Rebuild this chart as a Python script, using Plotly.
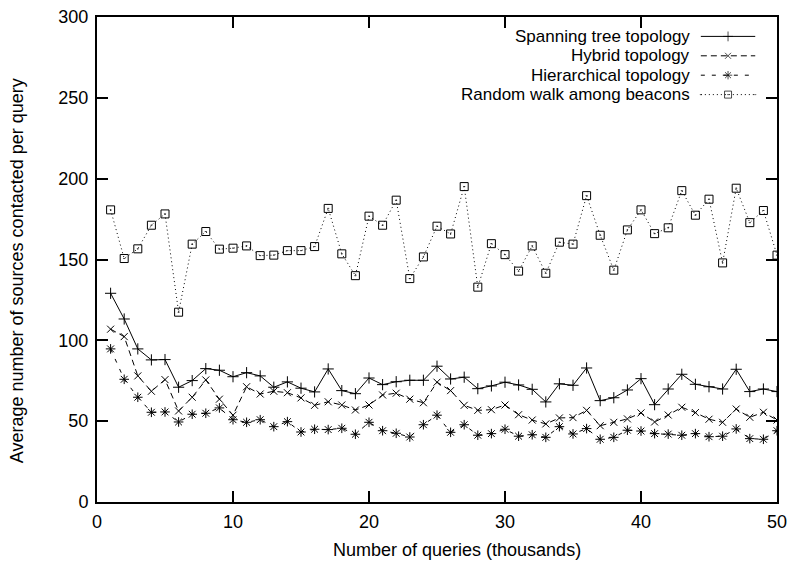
import plotly.graph_objects as go

queries = list(range(1, 51))

spanning = [129.1, 113.2, 94.7, 87.9, 88.1, 71.0, 75.1, 82.5, 81.5, 77.5,
            80.0, 78.0, 71.0, 74.3, 70.4, 68.1, 82.3, 68.9, 67.0, 76.7,
            72.6, 74.4, 75.3, 75.3, 84.0, 76.1, 77.2, 70.1, 71.8, 74.1,
            72.4, 69.7, 61.9, 73.1, 72.2, 82.9, 62.7, 64.5, 69.3, 76.3,
            60.2, 69.9, 79.0, 72.8, 71.3, 69.9, 82.1, 68.3, 69.9, 68.3]

hybrid = [106.9, 102.3, 78.0, 68.5, 75.7, 56.3, 64.8, 75.5, 63.6, 53.7,
          71.3, 66.8, 68.5, 67.6, 64.4, 59.8, 62.0, 60.0, 56.9, 60.0,
          66.2, 67.3, 63.6, 61.4, 74.1, 68.9, 59.8, 56.7, 57.1, 60.0,
          54.0, 50.7, 48.3, 52.0, 52.2, 56.7, 47.2, 49.3, 51.4, 55.1,
          49.5, 53.8, 58.6, 55.3, 51.2, 49.3, 57.5, 52.4, 55.5, 50.7]

hierarchical = [94.7, 75.9, 64.8, 55.5, 55.7, 49.5, 54.3, 54.9, 58.2, 50.9,
                49.3, 50.9, 46.6, 49.7, 43.3, 45.0, 44.8, 45.6, 41.9, 49.3,
                44.1, 42.5, 40.2, 47.8, 53.7, 43.1, 47.8, 41.3, 42.3, 45.0,
                40.7, 41.6, 40.0, 46.6, 42.1, 45.4, 38.8, 40.0, 44.4, 43.9,
                42.3, 42.0, 41.3, 42.3, 40.4, 40.7, 45.2, 39.2, 38.8, 44.1]

random_walk = [180.7, 150.6, 156.6, 171.2, 178.2, 117.4, 159.5, 167.3, 156.4, 157.0,
               158.4, 152.4, 152.7, 155.5, 155.5, 158.0, 181.6, 153.5, 140.0, 176.8,
               171.2, 186.7, 138.2, 151.6, 170.6, 165.8, 195.1, 132.9, 159.8, 153.0,
               142.8, 158.4, 141.5, 160.7, 159.5, 189.5, 165.0, 143.4, 168.3, 180.7,
               166.0, 169.6, 192.6, 177.4, 187.3, 147.9, 194.1, 172.8, 180.3, 152.7]

series_names = ["Spanning tree topology", "Hybrid topology",
                "Hierarchical topology", "Random walk among beacons"]
x_ticks = [0, 10, 20, 30, 40, 50]
y_ticks = [0, 50, 100, 150, 200, 250, 300]
x_title = "Number of queries (thousands)"
y_title = "Average number of sources contacted per query"

FONT = "Liberation Sans, Arial, Helvetica, sans-serif"
FS = 18
LFS = 17
styles = [
    dict(dash="solid", symbol="cross-thin-open", size=8),
    dict(dash="6px,4px", symbol="x-thin-open", size=7),
    dict(dash="4px,7px", symbol="asterisk-open", size=8),
    dict(dash="1px,3px", symbol="square-open-dot", size=8),
]
all_series = [spanning, hybrid, hierarchical, random_walk]

fig = go.Figure()
for name, vals, st in zip(series_names, all_series, styles):
    fig.add_trace(go.Scatter(
        x=queries, y=vals, mode="lines+markers", name=name, showlegend=False,
        line=dict(color="black", width=1, dash=st["dash"]),
        marker=dict(symbol=st["symbol"], size=st["size"], color="black",
                    line=dict(color="black", width=1)),
    ))

# Custom legend (text right-aligned, sample on the right, like gnuplot)
row_y = [0.960, 0.920, 0.880, 0.840]
lx0, lx1 = 0.888, 0.968
for name, st, yy in zip(series_names, styles, row_y):
    fig.add_trace(go.Scatter(
        x=[lx0, (lx0 + lx1) / 2, lx1], y=[yy, yy, yy], xaxis="x2", yaxis="y2",
        mode="lines+markers", showlegend=False, hoverinfo="skip",
        line=dict(color="black", width=1, dash=st["dash"]),
        marker=dict(symbol=st["symbol"], size=[0, st["size"] - 1, 0], color="black",
                    line=dict(color="black", width=1)),
    ))
    fig.add_annotation(x=0.873, y=yy, xref="paper", yref="paper", text=name,
                       showarrow=False, xanchor="right", yanchor="middle",
                       borderpad=0,
                       font=dict(family=FONT, size=LFS, color="black"))

# Axis titles
fig.add_annotation(x=0.529, y=-0.099, xref="paper", yref="paper", text=x_title,
                   showarrow=False, xanchor="center", yanchor="middle",
                   font=dict(family=FONT, size=FS, color="black"))
fig.add_annotation(x=-0.1176, y=0.476, xref="paper", yref="paper", text=y_title,
                   showarrow=False, xanchor="center", yanchor="middle", textangle=-90,
                   font=dict(family=FONT, size=FS, color="black"))

axis_common = dict(
    showline=True, linecolor="black", linewidth=2, mirror="ticks",
    ticks="inside", ticklen=11, tickwidth=2, tickcolor="black",
    showgrid=False, zeroline=False, automargin=False,
    tickfont=dict(family=FONT, size=FS, color="black"),
)

fig.update_layout(
    width=788, height=561,
    margin=dict(l=97, r=11, t=17, b=59, autoexpand=False),
    paper_bgcolor="white", plot_bgcolor="white",
    font=dict(family=FONT, size=FS, color="black"),
    xaxis=dict(range=[0, 50], tickvals=x_ticks, ticklabelstandoff=2, **axis_common),
    yaxis=dict(range=[0, 300], tickvals=y_ticks, ticklabelstandoff=3, **axis_common),
    xaxis2=dict(range=[0, 1], overlaying="x", visible=False, fixedrange=True),
    yaxis2=dict(range=[0, 1], overlaying="y", visible=False, fixedrange=True),
)

fig.write_html("out.html")
